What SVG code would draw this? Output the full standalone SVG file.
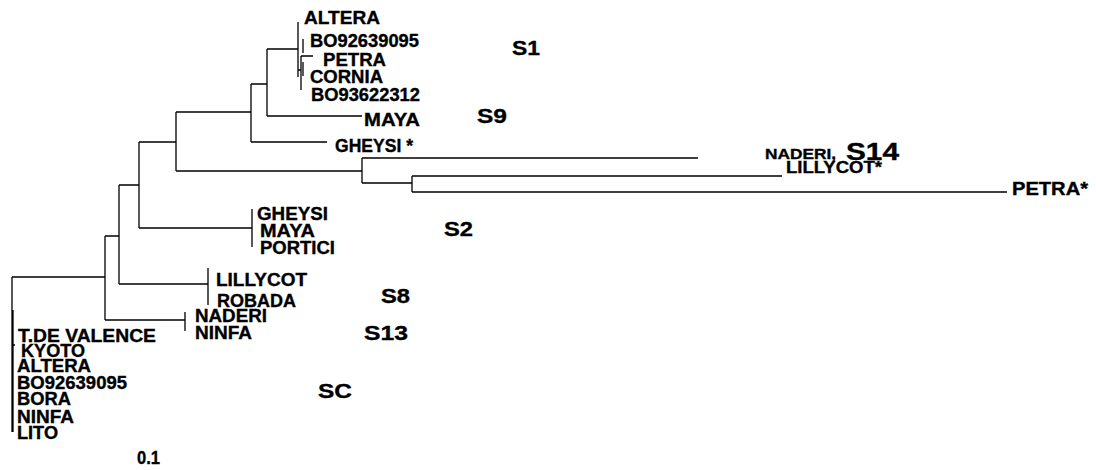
<svg xmlns="http://www.w3.org/2000/svg" width="1096" height="470" viewBox="0 0 1096 470">
<style>
.t{font-family:"Liberation Sans",Arial,sans-serif;font-weight:bold;font-size:17.5px;fill:#000;stroke:#000;stroke-width:0.35}
.c{font-family:"Liberation Sans",Arial,sans-serif;font-weight:bold;font-size:21px;fill:#000;stroke:#000;stroke-width:0.35}
.br{fill:none;stroke:#000;stroke-width:1.3}
</style>
<rect width="1096" height="470" fill="#fff"/>
<g id="connectors" class="br">
<path d="M12,277 H105 M105,236 V320 M105,236 H119 M105,320 H185 M185,312 V331"/>
<path d="M12,277 V432 M12,345 H15 M13,310 V432"/>
<path d="M119,185 V284 M119,185 H139 M119,284 H208 M208,268 V305"/>
<path d="M139,142 V228 M139,142 H176 M139,228 H252 M252,209 V247"/>
<path d="M176,112 V171 M176,112 H251 M176,171 H362"/>
<path d="M362,158 V183 M362,158 H698 M362,183 H412 M412,176 V192 M412,176 H782 M412,192 H1007"/>
<path d="M251,84 V142 M251,84 H267 M251,142 H327"/>
<path d="M267,49 V116 M267,49 H298 M267,116 H362"/>
<path d="M298,22 V77 M298,70 H301 M303,39 V53 M301,56 H313 M301,56 V90 M303,62 V76"/>
</g>
<g id="n_altera1"><text class="t" x="304" y="24" textLength="76" lengthAdjust="spacingAndGlyphs">ALTERA</text></g>
<g id="n_bo92639095_1"><text class="t" x="310" y="47" textLength="109" lengthAdjust="spacingAndGlyphs">BO92639095</text></g>
<g id="n_petra1"><text class="t" x="323" y="66" textLength="63" lengthAdjust="spacingAndGlyphs">PETRA</text></g>
<g id="n_cornia"><text class="t" x="310" y="83" textLength="73" lengthAdjust="spacingAndGlyphs">CORNIA</text></g>
<g id="n_bo93622312"><text class="t" x="311" y="101" textLength="109" lengthAdjust="spacingAndGlyphs">BO93622312</text></g>
<g id="n_maya1"><text class="t" x="364" y="126" textLength="56" lengthAdjust="spacingAndGlyphs">MAYA</text></g>
<g id="n_gheysi_star"><text class="t" x="335" y="152" textLength="78" lengthAdjust="spacingAndGlyphs">GHEYSI *</text></g>
<g id="n_gheysi2"><text class="t" x="257" y="220" textLength="71" lengthAdjust="spacingAndGlyphs">GHEYSI</text></g>
<g id="n_maya2"><text class="t" x="260" y="237" textLength="55" lengthAdjust="spacingAndGlyphs">MAYA</text></g>
<g id="n_portici"><text class="t" x="260" y="254" textLength="75" lengthAdjust="spacingAndGlyphs">PORTICI</text></g>
<g id="n_lillycot"><text class="t" x="216" y="286" textLength="91" lengthAdjust="spacingAndGlyphs">LILLYCOT</text></g>
<g id="n_robada"><text class="t" x="217" y="307" textLength="79" lengthAdjust="spacingAndGlyphs">ROBADA</text></g>
<g id="n_naderi"><text class="t" x="195" y="322" textLength="72" lengthAdjust="spacingAndGlyphs">NADERI</text></g>
<g id="n_ninfa1"><text class="t" x="195" y="339" textLength="57" lengthAdjust="spacingAndGlyphs">NINFA</text></g>
<g id="n_tdevalence"><text class="t" x="18" y="342" textLength="138" lengthAdjust="spacingAndGlyphs">T.DE VALENCE</text></g>
<g id="n_kyoto"><text class="t" x="21" y="357" textLength="64" lengthAdjust="spacingAndGlyphs">KYOTO</text></g>
<g id="n_altera2"><text class="t" x="17" y="372" textLength="74" lengthAdjust="spacingAndGlyphs">ALTERA</text></g>
<g id="n_bo92639095_2"><text class="t" x="17" y="389" textLength="110" lengthAdjust="spacingAndGlyphs">BO92639095</text></g>
<g id="n_bora"><text class="t" x="17" y="405" textLength="54" lengthAdjust="spacingAndGlyphs">BORA</text></g>
<g id="n_ninfa2"><text class="t" x="17" y="423" textLength="57" lengthAdjust="spacingAndGlyphs">NINFA</text></g>
<g id="n_lito"><text class="t" x="17" y="439" textLength="41" lengthAdjust="spacingAndGlyphs">LITO</text></g>
<g id="n_naderi_s14"><text class="t" x="765" y="159" style="font-size:15px" textLength="71" lengthAdjust="spacingAndGlyphs">NADERI,</text><text class="c" x="846" y="160" style="font-size:23px" textLength="53" lengthAdjust="spacingAndGlyphs">S14</text></g>
<g id="n_lillycot_star"><text class="t" x="786" y="173" style="font-size:16.5px" textLength="96" lengthAdjust="spacingAndGlyphs">LILLYCOT*</text></g>
<g id="n_petra_star"><text class="t" x="1012" y="195" textLength="76" lengthAdjust="spacingAndGlyphs">PETRA*</text></g>
<g id="scale"><text class="t" x="137" y="464" textLength="23" lengthAdjust="spacingAndGlyphs">0.1</text></g>
<g id="clade_s1"><text class="c" x="512" y="55" textLength="28" lengthAdjust="spacingAndGlyphs">S1</text></g>
<g id="clade_s9"><text class="c" x="477" y="123" textLength="30" lengthAdjust="spacingAndGlyphs">S9</text></g>
<g id="clade_s2"><text class="c" x="444" y="236" textLength="29" lengthAdjust="spacingAndGlyphs">S2</text></g>
<g id="clade_s8"><text class="c" x="381" y="303" textLength="29" lengthAdjust="spacingAndGlyphs">S8</text></g>
<g id="clade_s13"><text class="c" x="364" y="340" textLength="44" lengthAdjust="spacingAndGlyphs">S13</text></g>
<g id="clade_sc"><text class="c" x="318" y="398" textLength="34" lengthAdjust="spacingAndGlyphs">SC</text></g>
</svg>
